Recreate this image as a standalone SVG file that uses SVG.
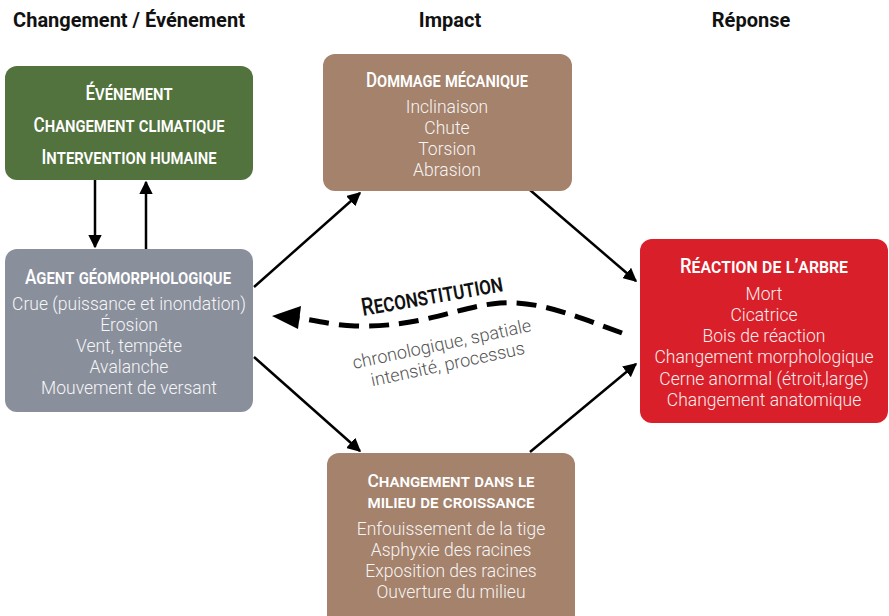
<svg xmlns="http://www.w3.org/2000/svg" width="889" height="616" viewBox="0 0 889 616">
<defs>
<style>
.hdr{font-family:Roboto,"Liberation Sans",sans-serif;font-weight:700;font-size:20px;fill:#111;text-anchor:middle}
.ttl{font-family:Roboto,"Liberation Sans",sans-serif;font-weight:500;font-size:21px;font-variant:small-caps;fill:#fff;text-anchor:middle}
.itm{font-family:Roboto,"Liberation Sans",sans-serif;font-weight:300;font-size:17.5px;fill:#fff;text-anchor:middle;opacity:0.92}
.con{stroke:#000;stroke-width:2.5;fill:none}
.sub{font-family:Roboto,"Liberation Sans",sans-serif;font-weight:300;font-size:18px;fill:#555;text-anchor:middle}
</style>
<marker id="ah" viewBox="0 0 10 10" refX="9" refY="5" markerWidth="5.5" markerHeight="5.5" markerUnits="strokeWidth" orient="auto">
<path d="M0,0 L10,5 L0,10 z" fill="#000"/>
</marker>
</defs>
<rect width="889" height="616" fill="#fff"/>
<g id="headers">
<text class="hdr" x="129" y="27">Changement / Événement</text>
<text class="hdr" x="450" y="27">Impact</text>
<text class="hdr" x="751" y="27">Réponse</text>
</g>
<g id="connectors">
<line class="con" x1="95" y1="180" x2="95" y2="247" marker-end="url(#ah)"/>
<line class="con" x1="146" y1="249" x2="146" y2="182" marker-end="url(#ah)"/>
<line class="con" x1="254" y1="287" x2="360" y2="193" marker-end="url(#ah)"/>
<line class="con" x1="530" y1="190" x2="636" y2="281" marker-end="url(#ah)"/>
<line class="con" x1="254" y1="357" x2="360" y2="451" marker-end="url(#ah)"/>
<line class="con" x1="530" y1="452" x2="636" y2="364" marker-end="url(#ah)"/>
<path d="M622,333 C580,318 540,300 500,303 C460,306 420,328 355,326 C330,325 315,320 298,318" stroke="#000" stroke-width="5" fill="none" stroke-dasharray="20,10"/>
<path d="M272,316 L301,306 L298,329 z" fill="#000"/>
</g>
<g id="reconstitution">
<text x="363" y="316" transform="rotate(-10 363 316)" textLength="143" lengthAdjust="spacingAndGlyphs" style="font-family:Roboto,'Liberation Sans',sans-serif;font-weight:500;font-size:25px;font-variant:small-caps;fill:#111">Reconstitution</text>
<text class="sub" x="443" y="350" transform="rotate(-12 443 350)">chronologique, spatiale</text>
<text class="sub" x="449" y="370" transform="rotate(-12 449 370)">intensité, processus</text>
</g>
<g id="evenement">
<rect x="5" y="66" width="248" height="114" rx="12" fill="#52733d"/>
<text class="ttl" x="129" y="100" textLength="87" lengthAdjust="spacingAndGlyphs">Événement</text>
<text class="ttl" x="129" y="132" textLength="191" lengthAdjust="spacingAndGlyphs">Changement climatique</text>
<text class="ttl" x="129" y="164" textLength="175" lengthAdjust="spacingAndGlyphs">Intervention humaine</text>
</g>
<g id="dommage">
<rect x="323" y="54" width="249" height="137" rx="12" fill="#a4826c"/>
<text class="ttl" x="447" y="87" textLength="162" lengthAdjust="spacingAndGlyphs">Dommage mécanique</text>
<text class="itm" x="447" y="113">Inclinaison</text>
<text class="itm" x="447" y="134">Chute</text>
<text class="itm" x="447" y="155">Torsion</text>
<text class="itm" x="447" y="176">Abrasion</text>
</g>
<g id="agent">
<rect x="5" y="249" width="248" height="163" rx="12" fill="#8a8f9c"/>
<text class="ttl" x="128" y="284" textLength="206" lengthAdjust="spacingAndGlyphs">Agent géomorphologique</text>
<text class="itm" x="129" y="310">Crue (puissance et inondation)</text>
<text class="itm" x="129" y="331">Érosion</text>
<text class="itm" x="129" y="352">Vent, tempête</text>
<text class="itm" x="129" y="373">Avalanche</text>
<text class="itm" x="129" y="394">Mouvement de versant</text>
</g>
<g id="reaction">
<rect x="640" y="239" width="248" height="184" rx="12" fill="#d9202a"/>
<text class="ttl" x="764" y="273" textLength="168" lengthAdjust="spacingAndGlyphs">Réaction de l’arbre</text>
<text class="itm" x="764" y="300">Mort</text>
<text class="itm" x="764" y="321">Cicatrice</text>
<text class="itm" x="764" y="342">Bois de réaction</text>
<text class="itm" x="764" y="363">Changement morphologique</text>
<text class="itm" x="764" y="385">Cerne anormal (étroit,large)</text>
<text class="itm" x="764" y="406">Changement anatomique</text>
</g>
<g id="milieu">
<rect x="327" y="453" width="248" height="175" rx="12" fill="#a4826c"/>
<text class="ttl" x="451" y="487" style="font-size:18px" textLength="167" lengthAdjust="spacingAndGlyphs">Changement dans le</text>
<text class="ttl" x="451" y="508" style="font-size:18px" textLength="167" lengthAdjust="spacingAndGlyphs">milieu de croissance</text>
<text class="itm" x="451" y="535">Enfouissement de la tige</text>
<text class="itm" x="451" y="556">Asphyxie des racines</text>
<text class="itm" x="451" y="577">Exposition des racines</text>
<text class="itm" x="451" y="598">Ouverture du milieu</text>
</g>
</svg>
